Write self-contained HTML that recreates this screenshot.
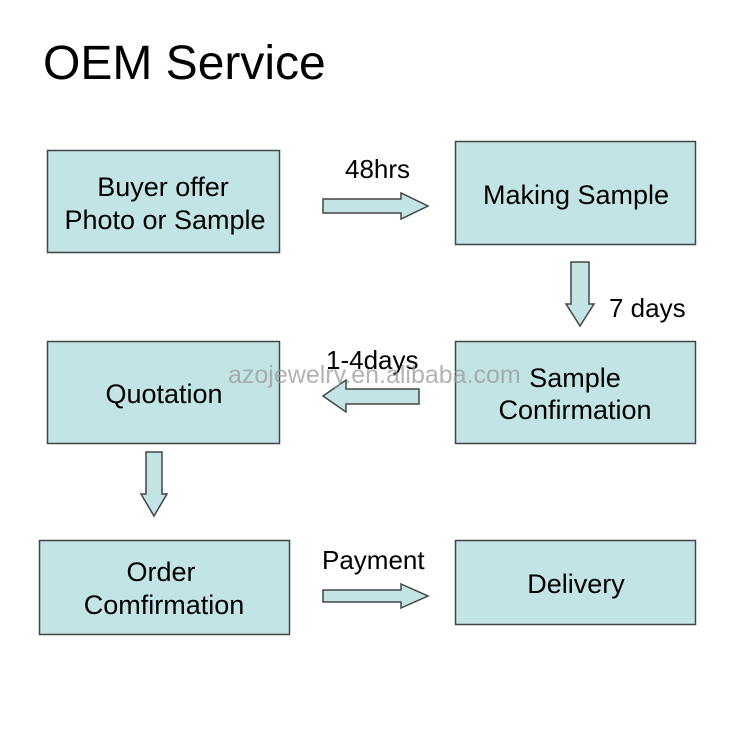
<!DOCTYPE html>
<html><head><style>
body{margin:0;background:#fff;width:750px;height:750px;overflow:hidden}
</style></head><body>
<svg width="750" height="750" xmlns="http://www.w3.org/2000/svg" font-family="Liberation Sans, Arial, sans-serif">
<rect width="750" height="750" fill="#fff"/>
<text x="43" y="79" font-size="48" fill="#000">OEM Service</text>
<g fill="#c2e4e5" stroke="#444" stroke-width="1.5">
<rect x="47.5" y="150.5" width="232" height="102"/>
<rect x="455.5" y="141.5" width="240" height="103"/>
<rect x="47.5" y="341.5" width="232" height="102"/>
<rect x="455.5" y="341.5" width="240" height="102"/>
<rect x="39.5" y="540.5" width="250" height="94"/>
<rect x="455.5" y="540.5" width="240" height="84"/>
<polygon points="323,199 401,199 401,193 428,206 401,219 401,213 323,213"/>
<polygon points="571,262 589,262 589,304 594,304 580,326 566,304 571,304"/>
<polygon points="419,389 346,389 346,380 323,396 346,412 346,404 419,404"/>
<polygon points="146,452 162,452 162,494 167,494 154,516 141,494 146,494"/>
<polygon points="323,590 401,590 401,584 428,596 401,608 401,602 323,602"/>
</g>
<g font-size="27" fill="#000" text-anchor="middle">
<text x="163" y="196">Buyer offer</text>
<text x="165" y="229">Photo or Sample</text>
<text x="576" y="204">Making Sample</text>
<text x="164" y="403">Quotation</text>
<text x="575" y="387">Sample</text>
<text x="575" y="419">Confirmation</text>
<text x="161" y="581">Order</text>
<text x="164" y="614">Comfirmation</text>
<text x="576" y="593">Delivery</text>
</g>
<g font-size="26" fill="#000">
<text x="345" y="178">48hrs</text>
<text x="609" y="317">7 days</text>
<text x="326" y="369">1-4days</text>
<text x="322" y="569">Payment</text>
</g>
<text x="228" y="383" font-size="25" fill="#999" fill-opacity="0.75">azojewelry.en.alibaba.com</text>
</svg>
</body></html>
